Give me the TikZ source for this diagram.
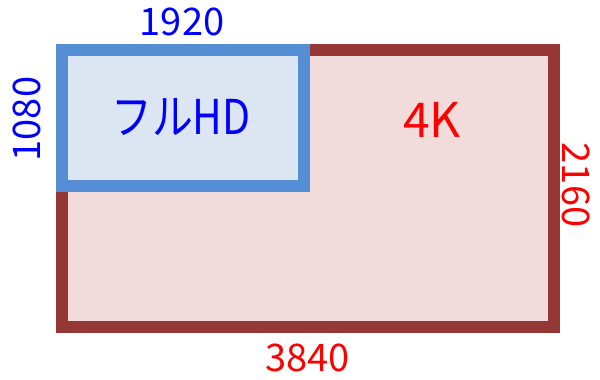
\documentclass[tikz,border=0pt]{standalone}
\usepackage{fontspec}
\setmainfont{Noto Sans CJK JP}
\definecolor{redline}{HTML}{953735}
\definecolor{redfill}{HTML}{F2DCDB}
\definecolor{blueline}{HTML}{558ED5}
\definecolor{bluefill}{HTML}{DCE6F2}
\definecolor{txtblue}{HTML}{0000FF}
\definecolor{txtred}{HTML}{FF0000}
\tikzset{
  dimlabel/.style={inner sep=0pt, font=\fontsize{28.5}{32}\selectfont},
  biglabel/.style={inner sep=0pt, font=\fontsize{36}{40}\selectfont},
}
\begin{document}
\begin{tikzpicture}[x=0.75pt, y=-0.75pt]
\useasboundingbox (0,0) rectangle (600,379);
\draw[redline, fill=redfill, line width=9pt] (62,50) rectangle (554,327);
\draw[blueline, fill=bluefill, line width=9pt] (62,50) rectangle (304,186);
\node[biglabel, text=txtred] (fourk) at (432,119.5) {4K};
\node[biglabel, text=txtblue, xscale=0.85] (fullhd) at (181,117.5) {フルHD};
\node[dimlabel, text=txtblue] (w1920) at (182,21.5) {1920};
\node[dimlabel, text=txtblue, rotate=90] (h1080) at (27,119) {1080};
\node[dimlabel, text=txtred, rotate=-90] (h2160) at (576.5,185) {2160};
\node[dimlabel, text=txtred] (w3840) at (307.5,357.5) {3840};
\end{tikzpicture}
\end{document}
